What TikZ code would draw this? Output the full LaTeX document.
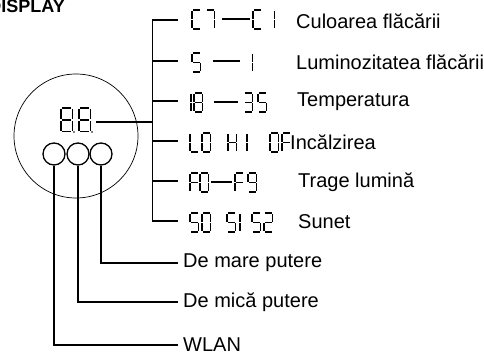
\documentclass[tikz,border=0pt]{standalone}
\usepackage{fontspec}
\setmainfont{Liberation Sans}
\newcommand\mySega{\draw[seg] (1,0) -- (7.5,0);}
\newcommand\mySegb{\draw[seg] (8.5,1) -- (8.5,8.7);}
\newcommand\mySegc{\draw[seg] (8.5,10.3) -- (8.5,18);}
\newcommand\mySegd{\draw[seg] (1,19) -- (7.5,19);}
\newcommand\mySege{\draw[seg] (0,10.3) -- (0,18);}
\newcommand\mySegf{\draw[seg] (0,1) -- (0,8.7);}
\newcommand\mySegg{\draw[seg] (1,9.5) -- (7.5,9.5);}
\newcommand\sevdig[4][]{\begin{scope}[shift={(#2,#3)},#1]\foreach \s in {#4}{\csname mySeg\s\endcsname}\end{scope}}
\begin{document}
\begin{tikzpicture}[x=1pt,y=-1pt]
\useasboundingbox (0,0) rectangle (484,355);
\tikzset{
  seg/.style={line width=1.7pt},
  conn/.style={line width=1.4pt},
  lbl/.style={font=\fontsize{20}{22}\selectfont, anchor=west, inner sep=0pt},
}
% title
\node[font=\bfseries\fontsize{18}{20}\selectfont, anchor=base east, inner sep=0pt] (title) at (65,13) {DISPLAY};
% display circle
\node[circle, draw, line width=0.7pt, minimum size=124pt, inner sep=0pt] (disp) at (76,136) {};
\sevdig[xscale=1.3,yscale=1.26,seg/.style={line width=1.1pt}]{61}{108}{a,b,c,d,e,f,g}
\sevdig[xscale=1.3,yscale=1.26,seg/.style={line width=1.1pt}]{79}{108}{a,b,c,d,e,f,g}
\fill (74,132) circle (0.9pt);
\fill (92,132) circle (0.9pt);
\coordinate (d88) at (96,122);
% small circles
\node[circle, draw, line width=1.3pt, minimum size=22pt, inner sep=0pt] (c1) at (54,154) {};
\node[circle, draw, line width=1.3pt, minimum size=22pt, inner sep=0pt] (c2) at (78,154) {};
\node[circle, draw, line width=1.3pt, minimum size=22pt, inner sep=0pt] (c3) at (101,154) {};
% trunk
\coordinate (vt) at (152.5,20);
\coordinate (vb) at (152.5,221);
\coordinate (h1) at (178,20);
\coordinate (h2) at (178,61);
\coordinate (h3) at (178,101);
\coordinate (h4) at (178,141);
\coordinate (h5) at (178,181);
\coordinate (h6) at (178,221);
\draw[conn] (h1) -- (vt) -- (vb) -- (h6);
\draw[conn] (h2) -- (h2 -| vt);
\draw[conn] (h3) -- (h3 -| vt);
\draw[conn] (h4) -- (h4 -| vt);
\draw[conn] (h5) -- (h5 -| vt);
\draw[conn] (d88) -- (d88 -| vt);
% row 1
\sevdig{192}{10}{a,d,e,f}
\sevdig{206}{10}{a,b,c}
\draw[seg] (222,19) -- (250,19);
\sevdig{253}{10}{a,d,e,f}
\sevdig{266}{10}{b,c}
% row 2
\sevdig{192}{53}{a,f,g,c,d}
\draw[seg] (213,61) -- (240,61);
\sevdig{244}{53}{b,c}
% row 3
\sevdig{182.5}{93}{b,c}
\sevdig{194}{93}{a,b,c,d,e,f,g}
\draw[seg] (214,102) -- (238,102);
\sevdig{244}{93}{a,b,g,c,d}
\sevdig{258}{93}{a,f,g,c,d}
% row 4
\sevdig{190}{133}{f,e,d}
\sevdig{202}{133}{a,b,c,d,e,f}
\sevdig{228}{133}{f,e,b,c,g}
\sevdig{238.5}{133}{b,c}
\sevdig{270}{133}{a,b,c,d,e,f}
\sevdig{282}{133}{a,f,g,e}
% row 5
\sevdig{190}{173}{a,f,g,e}
\sevdig{200}{173}{a,b,c,d,e,f}
\draw[seg] (211,182) -- (232,182);
\sevdig{235}{173}{a,f,g,e}
\sevdig{248}{173}{a,b,c,d,f,g}
% row 6
\sevdig{190}{213}{a,f,g,c,d}
\sevdig{202}{213}{a,b,c,d,e,f}
\sevdig{227}{213}{a,f,g,c,d}
\sevdig{231.5}{213}{b,c}
\sevdig{252}{213}{a,f,g,c,d}
\sevdig{264}{213}{a,b,g,e,d}
% labels
\node[lbl] (t1) at (296,21) {Culoarea flăcării};
\node[lbl] (t2) at (296,62) {Luminozitatea flăcării};
\node[lbl] (t3) at (297,102) {Temperatura};
\node[lbl] (t4) at (290,142) {Incălzirea};
\node[lbl] (t5) at (298,182) {Trage lumină};
\node[lbl] (t6) at (298,222) {Sunet};
\node[lbl] (l1) at (183,263) {De mare putere};
\node[lbl] (l2) at (183,302) {De mică putere};
\node[lbl] (l3) at (183,345) {WLAN};
\draw[conn] (c3.south) |- ([xshift=-5pt]l1.west);
\draw[conn] (c2.south) |- ([xshift=-5pt]l2.west);
\draw[conn] (c1.south) |- ([xshift=-5pt]l3.west);
\end{tikzpicture}
\end{document}
